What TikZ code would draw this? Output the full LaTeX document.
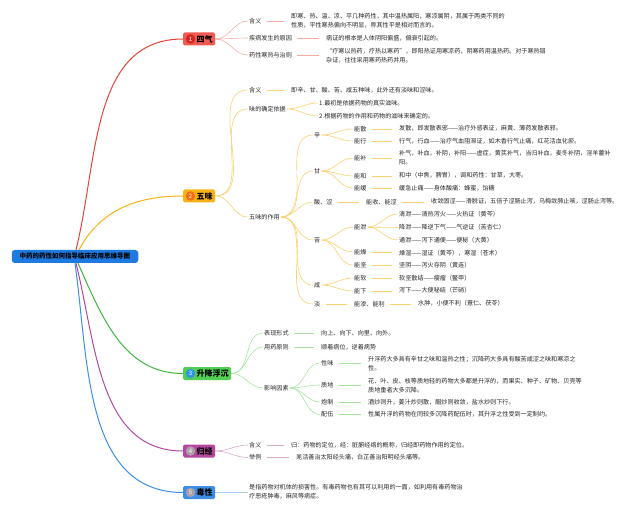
\documentclass[tikz,border=0pt]{standalone}
\usepackage{fontspec}
\setmainfont{Noto Sans CJK SC}
\usepackage{xcolor}
\definecolor{mmroot}{RGB}{30,122,222}
\definecolor{mmred}{RGB}{241,90,80}
\definecolor{mmreddk}{RGB}{212,40,36}
\definecolor{mmredline}{RGB}{232,66,58}
\definecolor{mmredlt}{RGB}{246,172,166}
\definecolor{mmorange}{RGB}{248,178,22}
\definecolor{mmorangedk}{RGB}{238,112,22}
\definecolor{mmorangelt}{RGB}{250,208,112}
\definecolor{mmgreen}{RGB}{82,206,82}
\definecolor{mmgreenline}{RGB}{62,182,62}
\definecolor{mmgreenlt}{RGB}{166,228,160}
\definecolor{mmnumblue}{RGB}{52,150,226}
\definecolor{mmpurple}{RGB}{180,72,160}
\definecolor{mmpurplelt}{RGB}{216,168,206}
\definecolor{mmblue}{RGB}{62,142,230}
\definecolor{mmbluelt}{RGB}{166,202,240}
\definecolor{mmgrey}{RGB}{170,160,170}
\usetikzlibrary{positioning}

\begin{document}
\begin{tikzpicture}[x=1pt, y=1pt,
  every node/.style={font=\fontsize{6.1}{9}\selectfont, text=black!85, inner sep=1pt},
  sub/.style={anchor=west},
  leaf/.style={anchor=west, align=left},
  topic/.style={anchor=west, rounded corners=1.5pt, minimum height=13pt, inner xsep=2.5pt, font=\fontsize{8}{9}\selectfont\bfseries, text=black},
  numdot/.style={circle, inner sep=0pt, minimum size=9.5pt, font=\fontsize{6}{7}\selectfont, text=white},
  trunk/.style={line width=1pt},
  twig/.style={line width=0.6pt},
  tail/.style={twig, shorten <=4pt, shorten >=6pt}]

\useasboundingbox (0,0) rectangle (640,-513);

% === Root ===
\node[fill=mmroot, rounded corners=3pt, minimum height=13pt, inner xsep=8pt, font=\fontsize{6.5}{8}\selectfont\bfseries, text=black] (root) at (75,-256.5) {中药的药性如何指导临床应用思维导图};

% === Topics ===
\node[topic, fill=mmred] (siqi) at (183,-39) {\hspace{11pt}四气};
\node[numdot, fill=mmreddk] (siqi-n) at ([xshift=7.5pt]siqi.west) {1};

\node[topic, fill=mmorange] (wuwei) at (183,-196) {\hspace{11pt}五味};
\node[numdot, fill=mmorangedk] (wuwei-n) at ([xshift=7.5pt]wuwei.west) {2};

\node[topic, fill=mmgreen] (sjfc) at (183,-373.5) {\hspace{11pt}升降浮沉};
\node[numdot, fill=mmnumblue] (sjfc-n) at ([xshift=7.5pt]sjfc.west) {3};

\node[topic, fill=mmpurple] (guijing) at (183,-451) {\hspace{11pt}归经};
\node[numdot, fill=mmgrey] (guijing-n) at ([xshift=7.5pt]guijing.west) {4};

\node[topic, fill=mmblue] (duxing) at (183,-492.5) {\hspace{11pt}毒性};
\node[numdot, fill=mmgrey] (duxing-n) at ([xshift=7.5pt]duxing.west) {5};

\draw[trunk, mmredline] ([xshift=1pt]root.north) to[out=76,in=180] (siqi.west);
\draw[trunk, mmorange] ([xshift=4pt]root.north) to[out=62,in=180] (wuwei.west);
\draw[trunk, mmgreenline] ([xshift=3pt]root.south) to[out=-66,in=180] (sjfc.west);
\draw[trunk, mmpurple] ([xshift=1pt]root.south) to[out=-76,in=180] (guijing.west);
\draw[trunk, mmblue] (root.south) to[out=-82,in=180] (duxing.west);

% === 四气 ===
\node[sub] (sq-a) at (248,-21) {含义};
\node[leaf] (sq-at) at (290,-20.5) {即寒、热、温、凉、平几种药性，其中温热属阳，寒凉属阴，其属于两类不同的\\性质，平性寒热偏向不明显，称其性平是相对而言的。};
\node[sub] (sq-b) at (248,-38) {疾病发生的原因};
\node[leaf] (sq-bt) at (325,-38) {病证的根本是人体阴阳偏盛，偏衰引起的。};
\node[sub] (sq-c) at (248,-55) {药性寒热与治则};
\node[leaf] (sq-ct) at (325,-56) {“疗寒以热药，疗热以寒药”，即阳热证用寒凉药，阴寒药用温热药。对于寒热错\\杂证，往往采用寒药热药并用。};

\draw[twig, mmredlt] (siqi.east) to[out=0,in=180] (sq-a.west);
\draw[twig, mmredlt] (siqi.east) to[out=0,in=180] (sq-b.west);
\draw[twig, mmredlt] (siqi.east) to[out=0,in=180] (sq-c.west);
\draw[tail, mmredlt] (sq-a.east) -- (sq-a.east -| sq-at.west);
\draw[tail, mmredlt] (sq-b.east) -- (sq-b.east -| sq-bt.west);
\draw[tail, mmredlt] (sq-c.east) -- (sq-c.east -| sq-ct.west);

% === 五味 ===
\node[sub] (ww-a) at (248,-90) {含义};
\node[leaf] (ww-at) at (290,-90) {即辛、甘、酸、苦、咸五种味，此外还有淡味和涩味。};
\node[sub] (ww-b) at (248,-109) {味的确定依据};
\node[leaf] (ww-b1) at (318,-103) {1.最初是依据药物的真实滋味。};
\node[leaf] (ww-b2) at (318,-116) {2.根据药物的作用和药物的滋味来确定的。};
\node[sub] (ww-c) at (248,-217) {五味的作用};

\draw[twig, mmorangelt] (wuwei.east) to[out=0,in=180] (ww-a.west);
\draw[twig, mmorangelt] (wuwei.east) to[out=0,in=180] (ww-b.west);
\draw[twig, mmorangelt] (wuwei.east) to[out=0,in=180] (ww-c.west);
\draw[tail, mmorangelt] (ww-a.east) -- (ww-a.east -| ww-at.west);
\draw[twig, mmorangelt] (ww-b.east) to[out=0,in=180] (ww-b1.west);
\draw[twig, mmorangelt] (ww-b.east) to[out=0,in=180] (ww-b2.west);

% tastes
\node[sub] (xin) at (313,-135) {辛};
\node[sub] (gan) at (313,-171) {甘};
\node[sub] (suan) at (313,-202) {酸、涩};
\node[sub] (ku) at (313,-240) {苦};
\node[sub] (xian) at (313,-285) {咸};
\node[sub] (dan) at (313,-304) {淡};

\draw[twig, mmorangelt] (ww-c.east) to[out=0,in=180] (xin.west);
\draw[twig, mmorangelt] (ww-c.east) to[out=0,in=180] (gan.west);
\draw[twig, mmorangelt] (ww-c.east) to[out=0,in=180] (suan.west);
\draw[twig, mmorangelt] (ww-c.east) to[out=0,in=180] (ku.west);
\draw[twig, mmorangelt] (ww-c.east) to[out=0,in=180] (xian.west);
\draw[twig, mmorangelt] (ww-c.east) to[out=0,in=180] (dan.west);

% 辛
\node[sub] (n-san) at (353,-129) {能散};
\node[leaf] (n-san-t) at (398,-128) {发散，即发散表邪——治疗外感表证，麻黄、薄荷发散表邪。};
\node[sub] (n-xing) at (353,-141) {能行};
\node[leaf] (n-xing-t) at (398,-141.5) {行气，行血——治疗气血阻滞证，如木香行气止痛，红花活血化瘀。};
\draw[twig, mmorangelt] (xin.east) to[out=0,in=180] (n-san.west);
\draw[twig, mmorangelt] (xin.east) to[out=0,in=180] (n-xing.west);
\draw[tail, mmorangelt] (n-san.east) -- (n-san.east -| n-san-t.west);
\draw[tail, mmorangelt] (n-xing.east) -- (n-xing.east -| n-xing-t.west);

% 甘
\node[sub] (n-bu) at (353,-158) {能补};
\node[leaf] (n-bu-t) at (398,-158) {补气，补血，补阴，补阳——虚症，黄芪补气，当归补血，麦冬补阴，淫羊藿补\\阳。};
\node[sub] (n-he) at (353,-176) {能和};
\node[leaf] (n-he-t) at (398,-175) {和中（中焦，脾胃），调和药性：甘草，大枣。};
\node[sub] (n-huan) at (353,-188) {能缓};
\node[leaf] (n-huan-t) at (398,-188) {缓急止痛——身体酸痛：蜂蜜，饴糖};
\draw[twig, mmorangelt] (gan.east) to[out=0,in=180] (n-bu.west);
\draw[twig, mmorangelt] (gan.east) to[out=0,in=180] (n-he.west);
\draw[twig, mmorangelt] (gan.east) to[out=0,in=180] (n-huan.west);
\draw[tail, mmorangelt] (n-bu.east) -- (n-bu.east -| n-bu-t.west);
\draw[tail, mmorangelt] (n-he.east) -- (n-he.east -| n-he-t.west);
\draw[tail, mmorangelt] (n-huan.east) -- (n-huan.east -| n-huan-t.west);

% 酸、涩
\node[sub] (n-shou) at (365,-202) {能收、能涩};
\node[leaf] (n-shou-t) at (430,-201.5) {收敛固涩——滑脱证，五倍子涩肠止泻，乌梅敛肺止咳，涩肠止泻等。};
\draw[tail, mmorangelt] (suan.east) -- (suan.east -| n-shou.west);
\draw[tail, mmorangelt] (n-shou.east) -- (n-shou.east -| n-shou-t.west);

% 苦
\node[sub] (n-xie) at (353,-227) {能泄};
\node[leaf] (qingxie) at (398,-214) {清泄——清热泻火——火热证（黄芩）};
\node[leaf] (jiangxie) at (398,-227) {降泄——降逆下气——气逆证（苦杏仁）};
\node[leaf] (tongxie) at (398,-240) {通泄——泻下通便——便秘（大黄）};
\node[sub] (n-zao) at (353,-252) {能燥};
\node[leaf] (n-zao-t) at (398,-253) {燥湿——湿证（黄芩），寒湿（苍术）};
\node[sub] (n-jian) at (353,-265) {能坚};
\node[leaf] (n-jian-t) at (398,-265) {坚阴——泻火存阴（黄连）};
\draw[twig, mmorangelt] (ku.east) to[out=0,in=180] (n-xie.west);
\draw[twig, mmorangelt] (ku.east) to[out=0,in=180] (n-zao.west);
\draw[twig, mmorangelt] (ku.east) to[out=0,in=180] (n-jian.west);
\draw[twig, mmorangelt] (n-xie.east) to[out=0,in=180] (qingxie.west);
\draw[twig, mmorangelt] (n-xie.east) to[out=0,in=180] (jiangxie.west);
\draw[twig, mmorangelt] (n-xie.east) to[out=0,in=180] (tongxie.west);
\draw[tail, mmorangelt] (n-zao.east) -- (n-zao.east -| n-zao-t.west);
\draw[tail, mmorangelt] (n-jian.east) -- (n-jian.east -| n-jian-t.west);

% 咸
\node[sub] (n-ruan) at (353,-278) {能软};
\node[leaf] (n-ruan-t) at (398,-278) {软坚散结——瘿瘤（鳖甲）};
\node[sub] (n-xia) at (353,-291) {能下};
\node[leaf] (n-xia-t) at (398,-290.5) {泻下——大便秘结（芒硝）};
\draw[twig, mmorangelt] (xian.east) to[out=0,in=180] (n-ruan.west);
\draw[twig, mmorangelt] (xian.east) to[out=0,in=180] (n-xia.west);
\draw[tail, mmorangelt] (n-ruan.east) -- (n-ruan.east -| n-ruan-t.west);
\draw[tail, mmorangelt] (n-xia.east) -- (n-xia.east -| n-xia-t.west);

% 淡
\node[sub] (n-shen) at (353,-304) {能渗、能利};
\node[leaf] (n-shen-t) at (417,-303.5) {水肿，小便不利（薏仁、茯苓）};
\draw[tail, mmorangelt] (dan.east) -- (dan.east -| n-shen.west);
\draw[tail, mmorangelt] (n-shen.east) -- (n-shen.east -| n-shen-t.west);

% === 升降浮沉 ===
\node[sub] (sj-a) at (263,-333) {表现形式};
\node[leaf] (sj-at) at (320,-333) {向上、向下、向里、向外。};
\node[sub] (sj-b) at (263,-347) {用药原则};
\node[leaf] (sj-bt) at (320,-347) {顺着病位，逆着病势};
\node[sub] (sj-c) at (263,-388) {影响因素};
\draw[twig, mmgreenlt] (sjfc.east) to[out=0,in=180] (sj-a.west);
\draw[twig, mmgreenlt] (sjfc.east) to[out=0,in=180] (sj-b.west);
\draw[twig, mmgreenlt] (sjfc.east) to[out=0,in=180] (sj-c.west);
\draw[tail, mmgreenlt] (sj-a.east) -- (sj-a.east -| sj-at.west);
\draw[tail, mmgreenlt] (sj-b.east) -- (sj-b.east -| sj-bt.west);

\node[sub] (xingwei) at (320,-363) {性味};
\node[leaf] (xingwei-t) at (367,-363.5) {升浮药大多具有辛甘之味和温热之性；沉降药大多具有酸苦咸涩之味和寒凉之\\性。};
\node[sub] (zhidi) at (320,-385) {质地};
\node[leaf] (zhidi-t) at (367,-385.5) {花、叶、皮、枝等质地轻的药物大多都是升浮的，而果实、种子、矿物、贝壳等\\质地重者大多沉降。};
\node[sub] (paozhi) at (320,-402) {炮制};
\node[leaf] (paozhi-t) at (367,-402) {酒炒则升，姜汁炒则散，醋炒则收敛，盐水炒则下行。};
\node[sub] (peiwu) at (320,-414.5) {配伍};
\node[leaf] (peiwu-t) at (367,-414.5) {性属升浮的药物在同较多沉降药配伍时，其升浮之性受到一定制约。};
\draw[twig, mmgreenlt] (sj-c.east) to[out=0,in=180] (xingwei.west);
\draw[twig, mmgreenlt] (sj-c.east) to[out=0,in=180] (zhidi.west);
\draw[twig, mmgreenlt] (sj-c.east) to[out=0,in=180] (paozhi.west);
\draw[twig, mmgreenlt] (sj-c.east) to[out=0,in=180] (peiwu.west);
\draw[tail, mmgreenlt] (xingwei.east) -- (xingwei.east -| xingwei-t.west);
\draw[tail, mmgreenlt] (zhidi.east) -- (zhidi.east -| zhidi-t.west);
\draw[tail, mmgreenlt] (paozhi.east) -- (paozhi.east -| paozhi-t.west);
\draw[tail, mmgreenlt] (peiwu.east) -- (peiwu.east -| peiwu-t.west);

% === 归经 ===
\node[sub] (gj-a) at (248,-445) {含义};
\node[leaf] (gj-at) at (290,-445) {归：药物的定位，经：脏腑经络的概称，归经即药物作用的定位。};
\node[sub] (gj-b) at (248,-457.5) {举例};
\node[leaf] (gj-bt) at (295,-457.5) {羌活善治太阳经头痛，白芷善治阳明经头痛等。};
\draw[twig, mmpurplelt] (guijing.east) to[out=0,in=180] (gj-a.west);
\draw[twig, mmpurplelt] (guijing.east) to[out=0,in=180] (gj-b.west);
\draw[tail, mmpurplelt] (gj-a.east) -- (gj-a.east -| gj-at.west);
\draw[tail, mmpurplelt] (gj-b.east) -- (gj-b.east -| gj-bt.west);

% === 毒性 ===
\node[leaf] (dx-t) at (248,-492) {是指药物对机体的损害性。有毒药物也有其可以利用的一面，如利用有毒药物治\\疗恶疮肿毒，麻风等病症。};
\draw[twig, mmbluelt] (duxing.east) -- (duxing.east -| dx-t.west);

\end{tikzpicture}
\end{document}
